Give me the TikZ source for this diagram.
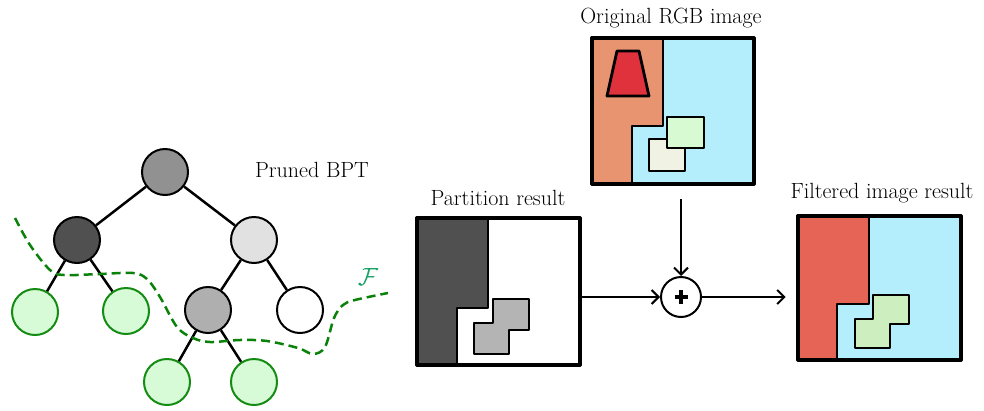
\documentclass[tikz,border=0pt]{standalone}
\usetikzlibrary{arrows.meta}
\definecolor{orangeR}{RGB}{232,148,112}
\definecolor{cyanR}{RGB}{180,238,252}
\definecolor{trapR}{RGB}{224,50,60}
\definecolor{sqGreen}{RGB}{215,250,210}
\definecolor{sqBeige}{RGB}{240,242,228}
\definecolor{darkR}{RGB}{80,80,80}
\definecolor{grayS}{RGB}{180,180,180}
\definecolor{filtRed}{RGB}{230,100,85}
\definecolor{filtGreen}{RGB}{205,238,190}
\definecolor{leafGreen}{RGB}{20,140,20}
\definecolor{leafFill}{RGB}{215,250,215}
\definecolor{dashGreen}{RGB}{10,130,10}
\definecolor{fTeal}{RGB}{20,160,100}
\begin{document}
\begin{tikzpicture}[x=1pt,y=-1pt,
  tnode/.style={circle,draw=black,line width=2pt,minimum size=46pt,inner sep=0pt},
  leaf/.style={tnode,draw=leafGreen,fill=leafFill},
  tedge/.style={line width=2.5pt},
  reg/.style={draw=black,line width=2.8pt,line join=round},
  imgbox/.style={rectangle,draw=black,line width=2.8pt,inner sep=0pt},
  arr/.style={line width=2pt,-{Straight Barb[length=7pt,width=14pt]}},
  lbl/.style={font=\fontsize{22}{26}\selectfont,inner sep=0pt}]
\useasboundingbox (0,0) rectangle (984,410);

% ---------- tree ----------
\node[tnode,fill={rgb,255:red,145;green,145;blue,145}] (root) at (165,172) {};
\node[tnode,fill=darkR] (L) at (77,240) {};
\node[tnode,fill={rgb,255:red,225;green,225;blue,225}] (R) at (254,240) {};
\node[leaf] (LL) at (35,312) {};
\node[leaf] (LR) at (126,311) {};
\node[tnode,fill={rgb,255:red,175;green,175;blue,175}] (RL) at (208,310) {};
\node[tnode,fill=white] (RR) at (300,310) {};
\node[leaf] (RLL) at (167,382) {};
\node[leaf] (RLR) at (254,382) {};
\draw[tedge] (root) -- (L);
\draw[tedge] (root) -- (R);
\draw[tedge] (L) -- (LL);
\draw[tedge] (L) -- (LR);
\draw[tedge] (R) -- (RL);
\draw[tedge] (R) -- (RR);
\draw[tedge] (RL) -- (RLL);
\draw[tedge] (RL) -- (RLR);
\node[lbl] (tBPT) at (312,170) {Pruned BPT};

\draw[dashGreen,line width=2.5pt,dash pattern=on 9pt off 5pt]
  plot[smooth,tension=0.55] coordinates {(15,218) (30,245) (50,270) (64,275) (100,274) (133,273) (147,279) (160,297) (177,327) (193,338) (210,342) (240,340) (267,341) (298,348) (313,354) (325,347) (334,318) (343,305) (355,300) (388,293)};
\node[lbl,text=fTeal,font=\fontsize{26}{30}\selectfont] (F) at (368,277) {$\mathcal{F}$};

% ---------- original RGB image ----------
\node[imgbox,fill=cyanR,minimum width=160pt,minimum height=144pt] (orig) at (673,111) {};
\filldraw[reg,fill=orangeR] (593,39) -- (663,39) -- (663,126) -- (632,126) -- (632,183) -- (593,183) -- cycle;
\filldraw[reg,fill=trapR] (617,51) -- (639,51) -- (649,96) -- (607,96) -- cycle;
\filldraw[reg,fill=sqBeige] (649,139) rectangle (685,171);
\filldraw[reg,fill=sqGreen] (667,117) rectangle (704,148);
\draw[reg] (orig.north west) rectangle (orig.south east);
\node[lbl] (tOrig) at (671,18) {Original RGB image};

% ---------- partition result ----------
\node[imgbox,fill=white,minimum width=161pt,minimum height=145pt] (part) at (498.5,291.5) {};
\filldraw[reg,fill=darkR] (418,219) -- (488,219) -- (488,308) -- (457,308) -- (457,364) -- (418,364) -- cycle;
\filldraw[reg,fill=grayS] (493,299) -- (529,299) -- (529,330) -- (509,330) -- (509,354) -- (474,354) -- (474,323) -- (493,323) -- cycle;
\draw[reg] (part.north west) rectangle (part.south east);
\node[lbl] (tPart) at (498,198) {Partition result};

% ---------- filtered image ----------
\node[imgbox,fill=cyanR,minimum width=161pt,minimum height=142pt] (filt) at (879.5,288) {};
\filldraw[reg,fill=filtRed] (799,217) -- (869,217) -- (869,304) -- (837,304) -- (837,359) -- (799,359) -- cycle;
\filldraw[reg,fill=filtGreen] (873,295) -- (909,295) -- (909,324) -- (890,324) -- (890,348) -- (855,348) -- (855,319) -- (873,319) -- cycle;
\draw[reg] (filt.north west) rectangle (filt.south east);
\node[lbl] (tFilt) at (882,193) {Filtered image result};

% ---------- combination ----------
\node[circle,draw=black,line width=2pt,minimum size=40pt,inner sep=0pt,fill=white] (plus) at (681,297) {};
\draw[line width=4pt] ([xshift=-6.5pt]plus.center) -- ([xshift=6.5pt]plus.center);
\draw[line width=4pt] ([yshift=-7pt]plus.center) -- ([yshift=7pt]plus.center);
\draw[arr,shorten <=15pt] (plus.north |- orig.south) -- (plus.north);
\draw[arr] (part.east |- plus.west) -- (plus.west);
\draw[arr,shorten >=12pt] (plus.east) -- (filt.west |- plus.east);
\end{tikzpicture}
\end{document}
